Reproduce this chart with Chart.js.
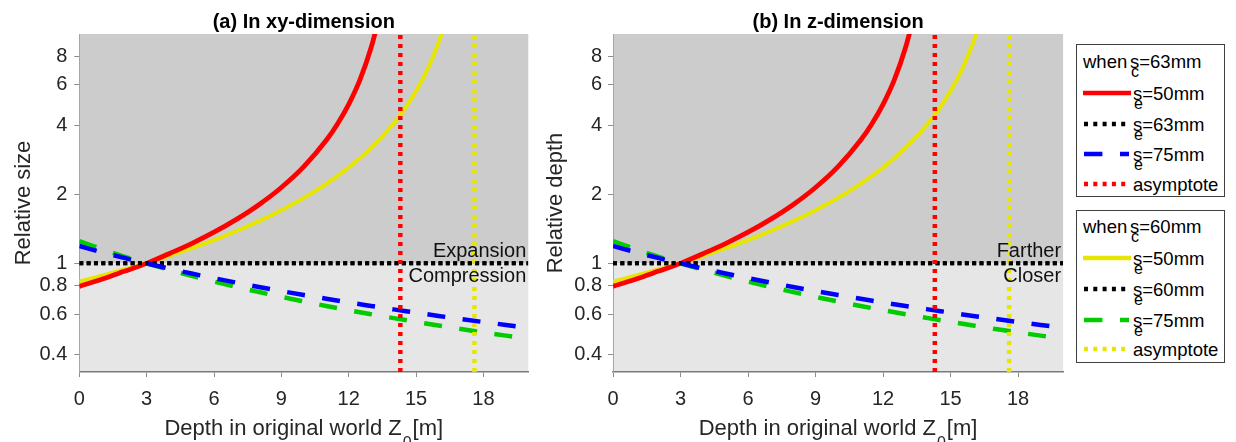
<!DOCTYPE html>
<html>
<head>
<meta charset="utf-8">
<script src="https://cdn.jsdelivr.net/npm/chart.js@4.4.1/dist/chart.umd.min.js"></script>
<style>
  body { margin: 0; background: #fff; width: 1236px; height: 442px; overflow: hidden; position: relative;
         font-family: "Liberation Sans", Arial, sans-serif; }
  canvas { position: absolute; top: 0; }
  .box { position: absolute; left: 1076px; width: 147px; height: 151px; border: 1px solid #404040; background: #fff; }
  .row { position: absolute; left: 1083px; height: 22px; width: 140px; line-height: 22px; font-size: 18.5px; color: #000; white-space: nowrap; }
  .row svg { position: absolute; left: 0; top: 0; }
  .lab { position: absolute; left: 50px; top: 1px; }
  .s { position: relative; }
  .s i { position: absolute; font-style: normal; font-size: 16px; left: 1px; top: 13px; line-height: 15px; }
</style>
</head>
<body>
<canvas id="chartA" width="540" height="442" style="left:0"></canvas>
<canvas id="chartB" width="530" height="442" style="left:540px"></canvas>

<!-- légende : deux cadres -->
<div class="box" style="top:44px"></div>
<div class="row" style="top:50.7px"><span style="position:absolute;left:0">when</span><span class="lab" style="left:47px;top:0"><span class="s">s<i>c</i></span>=63mm</span></div>
<div class="row" style="top:81.7px"><svg width="49" height="22"><line x1="0" y1="11" x2="48" y2="11" stroke="#ff0000" stroke-width="4.3"/></svg><span class="lab"><span class="s">s<i>e</i></span>=50mm</span></div>
<div class="row" style="top:112.7px"><svg width="49" height="22"><line x1="1" y1="11" x2="43" y2="11" stroke="#000" stroke-width="4.3" stroke-dasharray="4 5.3"/></svg><span class="lab"><span class="s">s<i>e</i></span>=63mm</span></div>
<div class="row" style="top:143px"><svg width="49" height="22"><line x1="1" y1="11" x2="46" y2="11" stroke="#0000ff" stroke-width="4.3" stroke-dasharray="18.4 17.6"/></svg><span class="lab"><span class="s">s<i>e</i></span>=75mm</span></div>
<div class="row" style="top:173px"><svg width="49" height="22"><line x1="1" y1="11" x2="43" y2="11" stroke="#ff0000" stroke-width="4.3" stroke-dasharray="4 5.3"/></svg><span class="lab">asymptote</span></div>

<div class="box" style="top:210px"></div>
<div class="row" style="top:216.3px"><span style="position:absolute;left:0">when</span><span class="lab" style="left:47px;top:0"><span class="s">s<i>c</i></span>=60mm</span></div>
<div class="row" style="top:247.3px"><svg width="49" height="22"><line x1="0" y1="11" x2="48" y2="11" stroke="#e6e600" stroke-width="4.3"/></svg><span class="lab"><span class="s">s<i>e</i></span>=50mm</span></div>
<div class="row" style="top:278px"><svg width="49" height="22"><line x1="1" y1="11" x2="43" y2="11" stroke="#000" stroke-width="4.3" stroke-dasharray="4 5.3"/></svg><span class="lab"><span class="s">s<i>e</i></span>=60mm</span></div>
<div class="row" style="top:309px"><svg width="49" height="22"><line x1="1" y1="11" x2="46" y2="11" stroke="#00cc00" stroke-width="4.3" stroke-dasharray="18.4 17.6"/></svg><span class="lab"><span class="s">s<i>e</i></span>=75mm</span></div>
<div class="row" style="top:338.3px"><svg width="49" height="22"><line x1="1" y1="11" x2="43" y2="11" stroke="#e6e600" stroke-width="4.3" stroke-dasharray="4 5.3"/></svg><span class="lab">asymptote</span></div>

<script>
// valeurs
const xTicks = [0, 3, 6, 9, 12, 15, 18];
const yTicks = [0.4, 0.6, 0.8, 1, 2, 4, 6, 8];
const xMin = 0, xMax = 20;
const yMin = 0.336, yMax = 10;

// s_c = 63mm
const zRed = [0, 1, 2, 3, 4, 5, 6, 7, 8, 9, 10, 11, 11.5, 12, 12.5, 13, 13.2, 13.4];
const redVals = [0.794, 0.853, 0.923, 1.0, 1.102, 1.22, 1.367, 1.555, 1.802, 2.142, 2.64, 3.439, 4.054, 4.935, 6.306, 8.731, 10.32, 12.61];
const zBlue = [0, 1, 2, 3, 4, 5, 6, 7, 8, 9, 10, 11, 12, 13, 14, 15, 16, 17, 18, 19, 20];
const blueVals = [1.19, 1.119, 1.056, 1.0, 0.949, 0.903, 0.862, 0.824, 0.789, 0.757, 0.728, 0.701, 0.675, 0.652, 0.63, 0.61, 0.59, 0.572, 0.555, 0.539, 0.524];
const asym63 = 14.3;

// s_c = 60mm
const zYellow = [0, 1, 2, 3, 4, 5, 6, 7, 8, 9, 10, 11, 12, 13, 14, 14.5, 15, 15.5, 16, 16.2, 16.4];
const yellowVals = [0.833, 0.884, 0.94, 1.0, 1.078, 1.164, 1.264, 1.384, 1.528, 1.705, 1.93, 2.222, 2.619, 3.188, 4.074, 4.731, 5.641, 6.984, 9.167, 10.48, 12.22];
const zGreen = [0, 1, 2, 3, 4, 5, 6, 7, 8, 9, 10, 11, 12, 13, 14, 15, 16, 17, 18, 19, 20];
const greenVals = [1.25, 1.154, 1.071, 1.0, 0.938, 0.882, 0.833, 0.789, 0.75, 0.714, 0.682, 0.652, 0.625, 0.6, 0.577, 0.556, 0.536, 0.517, 0.5, 0.484, 0.469];
const asym60 = 17.6;

// ligne de référence s_e = s_c
const zRef = [0, 20];
const refVals = [1, 1];

const FONT = '"Liberation Sans", Arial, sans-serif';
Chart.defaults.font.family = FONT;

const pts = (xs, ys) => xs.map((x, i) => ({ x: x, y: ys[i] }));
const vline = x => [{ x: x, y: yMin }, { x: x, y: yMax }];

// fond gris + textes (titre, axes avec indice, Expansion/Compression)
const decor = {
    id: 'decor',
    beforeDraw(chart, args, o) {
        const { ctx, chartArea: a } = chart;
        const y1 = chart.scales.y.getPixelForValue(1);
        ctx.save();
        ctx.fillStyle = '#cccccc';
        ctx.fillRect(a.left, a.top, a.right - a.left, y1 - a.top);
        ctx.fillStyle = '#e6e6e6';
        ctx.fillRect(a.left, y1, a.right - a.left, a.bottom - y1);
        ctx.restore();
    },
    afterDraw(chart, args, o) {
        const { ctx, chartArea: a } = chart;
        const cx = (a.left + a.right) / 2;
        const y1 = chart.scales.y.getPixelForValue(1);
        ctx.save();
        ctx.textBaseline = 'alphabetic';

        ctx.fillStyle = '#000';
        ctx.font = 'bold 20px ' + FONT;
        ctx.textAlign = 'center';
        ctx.fillText(o.title, cx, 28);

        // titre axe y
        ctx.fillStyle = '#262626';
        ctx.font = '22px ' + FONT;
        ctx.save();
        ctx.translate(o.yTitleX, (a.top + a.bottom) / 2);
        ctx.rotate(-Math.PI / 2);
        ctx.fillText(o.yTitle, 0, 0);
        ctx.restore();

        // titre axe x avec Z0
        const main = 'Depth in original world Z', sub = '0', tail = '[m]';
        ctx.font = '22px ' + FONT;
        const w1 = ctx.measureText(main).width, w3 = ctx.measureText(tail).width;
        ctx.font = '16px ' + FONT;
        const w2 = ctx.measureText(sub).width;
        let x0 = cx - (w1 + w2 + w3 + 2) / 2;
        ctx.textAlign = 'left';
        ctx.font = '22px ' + FONT;
        ctx.fillText(main, x0, 435);
        ctx.font = '16px ' + FONT;
        ctx.fillText(sub, x0 + w1 + 1, 448);
        ctx.font = '22px ' + FONT;
        ctx.fillText(tail, x0 + w1 + w2 + 2, 435);

        // Expansion / Compression
        ctx.fillStyle = '#111';
        ctx.font = '20px ' + FONT;
        ctx.textAlign = 'right';
        ctx.fillText(o.upper, a.right - 2, y1 - 6.6);
        ctx.fillText(o.lower, a.right - 2, y1 + 18.4);
        ctx.restore();
    }
};

function makeChart(id, cfg) {
    const line = (data, color, width, dash, curve) => ({
        data: data, borderColor: color, borderWidth: width, borderDash: dash || [],
        pointRadius: 0, fill: false, clip: 0,
        cubicInterpolationMode: curve ? 'monotone' : 'default'
    });
    return new Chart(document.getElementById(id), {
        type: 'line',
        data: {
            // le premier jeu est dessiné au-dessus
            datasets: [
                line(vline(asym63), '#ff0000', 4.5, [4, 5]),
                line(pts(zBlue, blueVals), '#0000ff', 4.5, [18, 17.5], true),
                line(pts(zRef, refVals), '#000000', 4, [4, 3.33]),
                line(pts(zRed, redVals), '#ff0000', 4.8, null, true),
                line(vline(asym60), '#e6e600', 4.5, [4, 5]),
                line(pts(zGreen, greenVals), '#00cc00', 4.5, [18, 17.5], true),
                line(pts(zRef, refVals), '#000000', 4, [4, 3.33]),
                line(pts(zYellow, yellowVals), '#e6e600', 4, null, true)
            ]
        },
        options: {
            responsive: false,
            animation: false,
            events: [],
            layout: { padding: { top: 34, right: cfg.padRight, left: 0, bottom: 0 } },
            plugins: { legend: { display: false }, tooltip: { enabled: false }, decor: cfg },
            scales: {
                x: {
                    type: 'linear', min: xMin, max: xMax,
                    afterBuildTicks: s => { s.ticks = xTicks.map(v => ({ value: v })); s.min = xMin; s.max = xMax; },
                    afterFit: s => { s.height = 70; },
                    grid: { drawOnChartArea: false, tickLength: 5, color: '#8c8c8c' },
                    border: { color: '#7a7a7a', width: 1.5 },
                    ticks: { padding: 10, color: '#262626', font: { size: 20 }, maxRotation: 0, autoSkip: false }
                },
                y: {
                    type: 'logarithmic', min: yMin, max: yMax,
                    // l'échelle log arrondit ses bornes : on les remet
                    afterBuildTicks: s => { s.ticks = yTicks.map(v => ({ value: v })); s.min = yMin; s.max = yMax; },
                    afterFit: s => { s.width = cfg.yWidth; },
                    grid: { drawOnChartArea: false, tickLength: 5, color: '#8c8c8c' },
                    border: { color: '#a6a6a6', width: 1 },
                    ticks: { padding: cfg.yPad, color: '#262626', font: { size: 20 }, autoSkip: false,
                             callback: v => String(v) }
                }
            }
        },
        plugins: [decor]
    });
}

makeChart('chartA', { title: '(a) In xy-dimension', yTitle: 'Relative size', yTitleX: 30,
    upper: 'Expansion', lower: 'Compression', yWidth: 79.3, padRight: 11.7, yPad: 7 });
makeChart('chartB', { title: '(b) In z-dimension', yTitle: 'Relative depth', yTitleX: 21.5,
    upper: 'Farther', lower: 'Closer', yWidth: 73, padRight: 6.9, yPad: 6 });
</script>
</body>
</html>
